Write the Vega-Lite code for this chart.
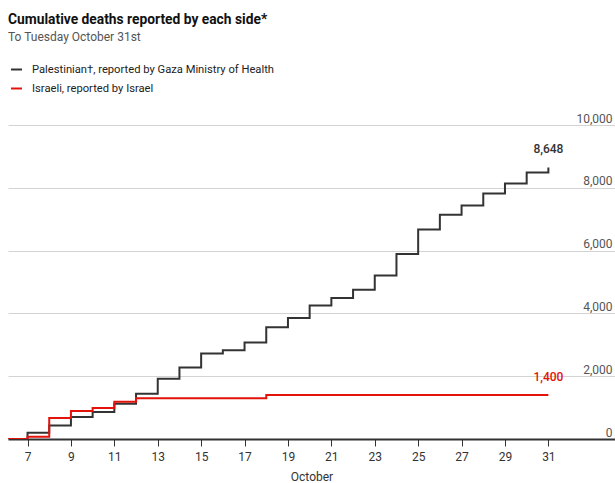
{
  "$schema": "https://vega.github.io/schema/vega-lite/v6.json",
  "autosize": {"type": "none"},
  "width": 607,
  "height": 314,
  "padding": {"left": 8, "top": 125, "right": 0, "bottom": 44},
  "background": "white",
  "config": {"view": {"stroke": null}, "font": "Roboto"},
  "title": {
    "text": "Cumulative deaths reported by each side*",
    "subtitle": "To Tuesday October 31st",
    "anchor": "start",
    "frame": "group",
    "font": "Roboto",
    "fontSize": 13.8,
    "fontWeight": "bold",
    "color": "#111111",
    "subtitleFont": "Roboto",
    "subtitleFontSize": 12,
    "subtitleColor": "#555555",
    "subtitlePadding": 5,
    "offset": 20
  },
  "data": {
    "values": [
      {"side": "Palestinian", "day": 6, "value": 0},
      {"side": "Palestinian", "day": 7, "value": 200},
      {"side": "Palestinian", "day": 8, "value": 430},
      {"side": "Palestinian", "day": 9, "value": 700},
      {"side": "Palestinian", "day": 10, "value": 860},
      {"side": "Palestinian", "day": 11, "value": 1120},
      {"side": "Palestinian", "day": 12, "value": 1440},
      {"side": "Palestinian", "day": 13, "value": 1920},
      {"side": "Palestinian", "day": 14, "value": 2280},
      {"side": "Palestinian", "day": 15, "value": 2720},
      {"side": "Palestinian", "day": 16, "value": 2830},
      {"side": "Palestinian", "day": 17, "value": 3070},
      {"side": "Palestinian", "day": 18, "value": 3560},
      {"side": "Palestinian", "day": 19, "value": 3850},
      {"side": "Palestinian", "day": 20, "value": 4250},
      {"side": "Palestinian", "day": 21, "value": 4490},
      {"side": "Palestinian", "day": 22, "value": 4750},
      {"side": "Palestinian", "day": 23, "value": 5210},
      {"side": "Palestinian", "day": 24, "value": 5890},
      {"side": "Palestinian", "day": 25, "value": 6670},
      {"side": "Palestinian", "day": 26, "value": 7140},
      {"side": "Palestinian", "day": 27, "value": 7440},
      {"side": "Palestinian", "day": 28, "value": 7820},
      {"side": "Palestinian", "day": 29, "value": 8140},
      {"side": "Palestinian", "day": 30, "value": 8490},
      {"side": "Palestinian", "day": 31, "value": 8648},
      {"side": "Israeli", "day": 6, "value": 0},
      {"side": "Israeli", "day": 7, "value": 70},
      {"side": "Israeli", "day": 8, "value": 670},
      {"side": "Israeli", "day": 9, "value": 890},
      {"side": "Israeli", "day": 10, "value": 990},
      {"side": "Israeli", "day": 11, "value": 1190},
      {"side": "Israeli", "day": 12, "value": 1300},
      {"side": "Israeli", "day": 18, "value": 1400},
      {"side": "Israeli", "day": 31, "value": 1400}
    ]
  },
  "encoding": {
    "x": {
      "field": "day",
      "type": "quantitative",
      "scale": {"domain": [6.1, 34.07], "nice": false, "zero": false},
      "axis": {
        "orient": "bottom",
        "values": [7, 9, 11, 13, 15, 17, 19, 21, 23, 25, 27, 29, 31],
        "title": "October",
        "titleFont": "Roboto",
        "titleFontSize": 12,
        "titleFontWeight": "normal",
        "titleColor": "#333333",
        "titlePadding": 9,
        "labelFont": "Roboto",
        "labelFontSize": 12,
        "labelColor": "#333333",
        "labelPadding": 5,
        "tickColor": "#333333",
        "tickSize": 7,
        "tickWidth": 1,
        "domainColor": "#333333",
        "domainWidth": 2,
        "grid": false
      }
    },
    "y": {
      "field": "value",
      "type": "quantitative",
      "scale": {"domain": [0, 10000], "nice": false},
      "axis": {
        "orient": "right",
        "values": [0, 2000, 4000, 6000, 8000, 10000],
        "format": ",.0f",
        "title": null,
        "grid": true,
        "gridColor": "#d3d3d3",
        "gridWidth": 1,
        "domain": false,
        "ticks": false,
        "tickSize": 0,
        "labelAlign": "right",
        "labelBaseline": "alphabetic",
        "labelPadding": -3,
        "labelOffset": -3,
        "labelFont": "Roboto",
        "labelFontSize": 12,
        "labelColor": "#555555"
      }
    },
    "color": {
      "field": "side",
      "type": "nominal",
      "scale": {"domain": ["Palestinian", "Israeli"], "range": ["#333333", "#e3120b"]},
      "legend": {
        "orient": "none",
        "legendX": 2,
        "legendY": -62,
        "direction": "vertical",
        "title": null,
        "symbolType": "stroke",
        "symbolSize": 120,
        "symbolStrokeWidth": 2,
        "labelFont": "Roboto",
        "labelFontSize": 11.2,
        "labelColor": "#222222",
        "labelOffset": 9,
        "labelLimit": 500,
        "rowPadding": 7,
        "labelExpr": "datum.label == 'Palestinian' ? 'Palestinian†, reported by Gaza Ministry of Health' : 'Israeli, reported by Israel'"
      }
    }
  },
  "layer": [
    {
      "mark": {"type": "line", "interpolate": "step-after", "strokeWidth": 2, "clip": true}
    },
    {
      "transform": [{"filter": "datum.day == 31"}],
      "mark": {"type": "text", "align": "center", "baseline": "middle", "dy": -18, "fontSize": 12, "fontWeight": 500, "font": "Roboto"},
      "encoding": {
        "text": {"field": "value", "type": "quantitative", "format": ",.0f"}
      }
    }
  ]
}
